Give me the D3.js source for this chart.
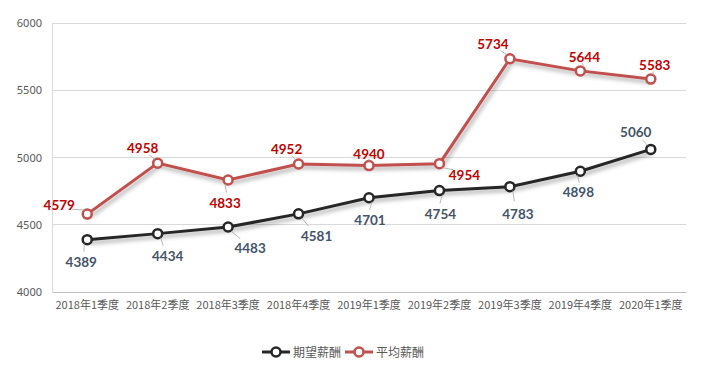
<!DOCTYPE html>
<html><head><meta charset="utf-8">
<script src="https://cdn.jsdelivr.net/npm/d3@7"></script>
<style>
body{margin:0;background:#fff;}
svg{display:block;}
</style></head>
<body><svg id="c" width="709" height="371"></svg>
<script>
const categories = ["2018年1季度","2018年2季度","2018年3季度","2018年4季度","2019年1季度","2019年2季度","2019年3季度","2019年4季度","2020年1季度"];
const expected = [4389,4434,4483,4581,4701,4754,4783,4898,5060];
const average = [4579,4958,4833,4952,4940,4954,5734,5644,5583];
const yTicks = [4000,4500,5000,5500,6000];
const seriesNames = ["期望薪酬","平均薪酬"];
// label offsets (dx, dy) relative to point
const expectedLabelOff = [[-6,22],[10,22],[22,21],[18,22],[1,22],[1,23],[8,27],[-2,21],[-15,-17]];
const averageLabelOff = [[-28,-9],[-15,-15],[-3,23],[-12,-15],[0,-12],[25,11],[-17,-15],[4,-14],[4,-14]];

const svg = d3.select("#c");
const defs = svg.append("defs");
const f = defs.append("filter").attr("id","sh").attr("x","-20%").attr("y","-20%").attr("width","140%").attr("height","160%");
f.append("feDropShadow").attr("dx",2).attr("dy",3).attr("stdDeviation",2).attr("flood-color","#000").attr("flood-opacity",0.35);

const m = {l:52,r:23,t:23,b:79};
const W=709,H=371;
const x = d3.scaleBand().domain(categories).range([m.l,W-m.r]);
const y = d3.scaleLinear().domain([4000,6000]).range([H-m.b,m.t]);
const cx = d => x(d)+x.bandwidth()/2;

// gridlines
svg.append("g").selectAll("line").data(yTicks.filter(t=>t>4000)).join("line")
 .attr("x1",m.l).attr("x2",W-m.r).attr("y1",d=>y(d)).attr("y2",d=>y(d))
 .attr("stroke","#d9d9d9").attr("stroke-width",1).attr("shape-rendering","crispEdges");
// left axis line
svg.append("line").attr("x1",m.l+0.5).attr("x2",m.l+0.5).attr("y1",m.t).attr("y2",y(4000)).attr("stroke","#d9d9d9");
// y axis
const ya = svg.append("g").attr("transform",`translate(${m.l},0)`).call(d3.axisLeft(y).tickValues(yTicks).tickFormat(d3.format("d")).tickSize(0).tickPadding(10));
ya.select(".domain").remove();
ya.selectAll("text").attr("fill","#595959").style("font-family","'Noto Sans',sans-serif").style("font-size","11px");
// x axis
const xa = svg.append("g").attr("transform",`translate(0,${y(4000)})`).call(d3.axisBottom(x).tickSize(0).tickPadding(9));
xa.select(".domain").attr("stroke","#bfbfbf");
xa.selectAll("text").attr("fill","#595959").style("font-family","'Noto Sans CJK SC',sans-serif").style("font-size","11px");

const series = [
 {name:seriesNames[0], data:expected, color:"#262626", labelColor:"#44546A", off:expectedLabelOff},
 {name:seriesNames[1], data:average, color:"#C0504D", labelColor:"#C00000", off:averageLabelOff}
];
const line = d3.line().x((d,i)=>cx(categories[i])).y(d=>y(d));
series.forEach(s=>{
  const g = svg.append("g");
  g.append("path").datum(s.data).attr("d",line).attr("fill","none").attr("stroke",s.color).attr("stroke-width",3).attr("filter","url(#sh)");
  g.selectAll("circle").data(s.data).join("circle")
   .attr("cx",(d,i)=>cx(categories[i])).attr("cy",d=>y(d)).attr("r",4.5)
   .attr("fill","#fff").attr("stroke",s.color).attr("stroke-width",2.5);
  g.selectAll("line.ld").data(s.data).join("line").attr("class","ld")
   .attr("x1",(d,i)=>cx(categories[i])+Math.sign(s.off[i][0])*3)
   .attr("y1",(d,i)=>y(d)+Math.sign(s.off[i][1])*4)
   .attr("x2",(d,i)=>cx(categories[i])+s.off[i][0]*0.55)
   .attr("y2",(d,i)=>y(d)+s.off[i][1]*0.55)
   .attr("stroke","#a6a6a6").attr("stroke-width",0.8);
  g.selectAll("text").data(s.data).join("text")
   .attr("x",(d,i)=>cx(categories[i])+s.off[i][0])
   .attr("y",(d,i)=>y(d)+s.off[i][1]+5)
   .attr("text-anchor","middle").attr("fill",s.labelColor)
   .style("font-family","Lato,'Noto Sans',sans-serif").style("font-weight","bold").style("font-size","13.5px")
   .text(d=>d);
});

// legend
const lg = svg.append("g").attr("transform","translate(262,352)");
let lx = 0;
series.forEach(s=>{
  const it = lg.append("g").attr("transform",`translate(${lx},0)`);
  it.append("line").attr("x1",0).attr("x2",28).attr("y1",0).attr("y2",0).attr("stroke",s.color).attr("stroke-width",3);
  it.append("circle").attr("cx",14).attr("cy",0).attr("r",4.5).attr("fill","#fff").attr("stroke",s.color).attr("stroke-width",2.5);
  it.append("text").attr("x",31).attr("y",4.5).attr("fill","#595959")
   .style("font-family","'Noto Sans CJK SC',sans-serif").style("font-size","12px").text(s.name);
  lx += 83;
});
</script></body></html>
